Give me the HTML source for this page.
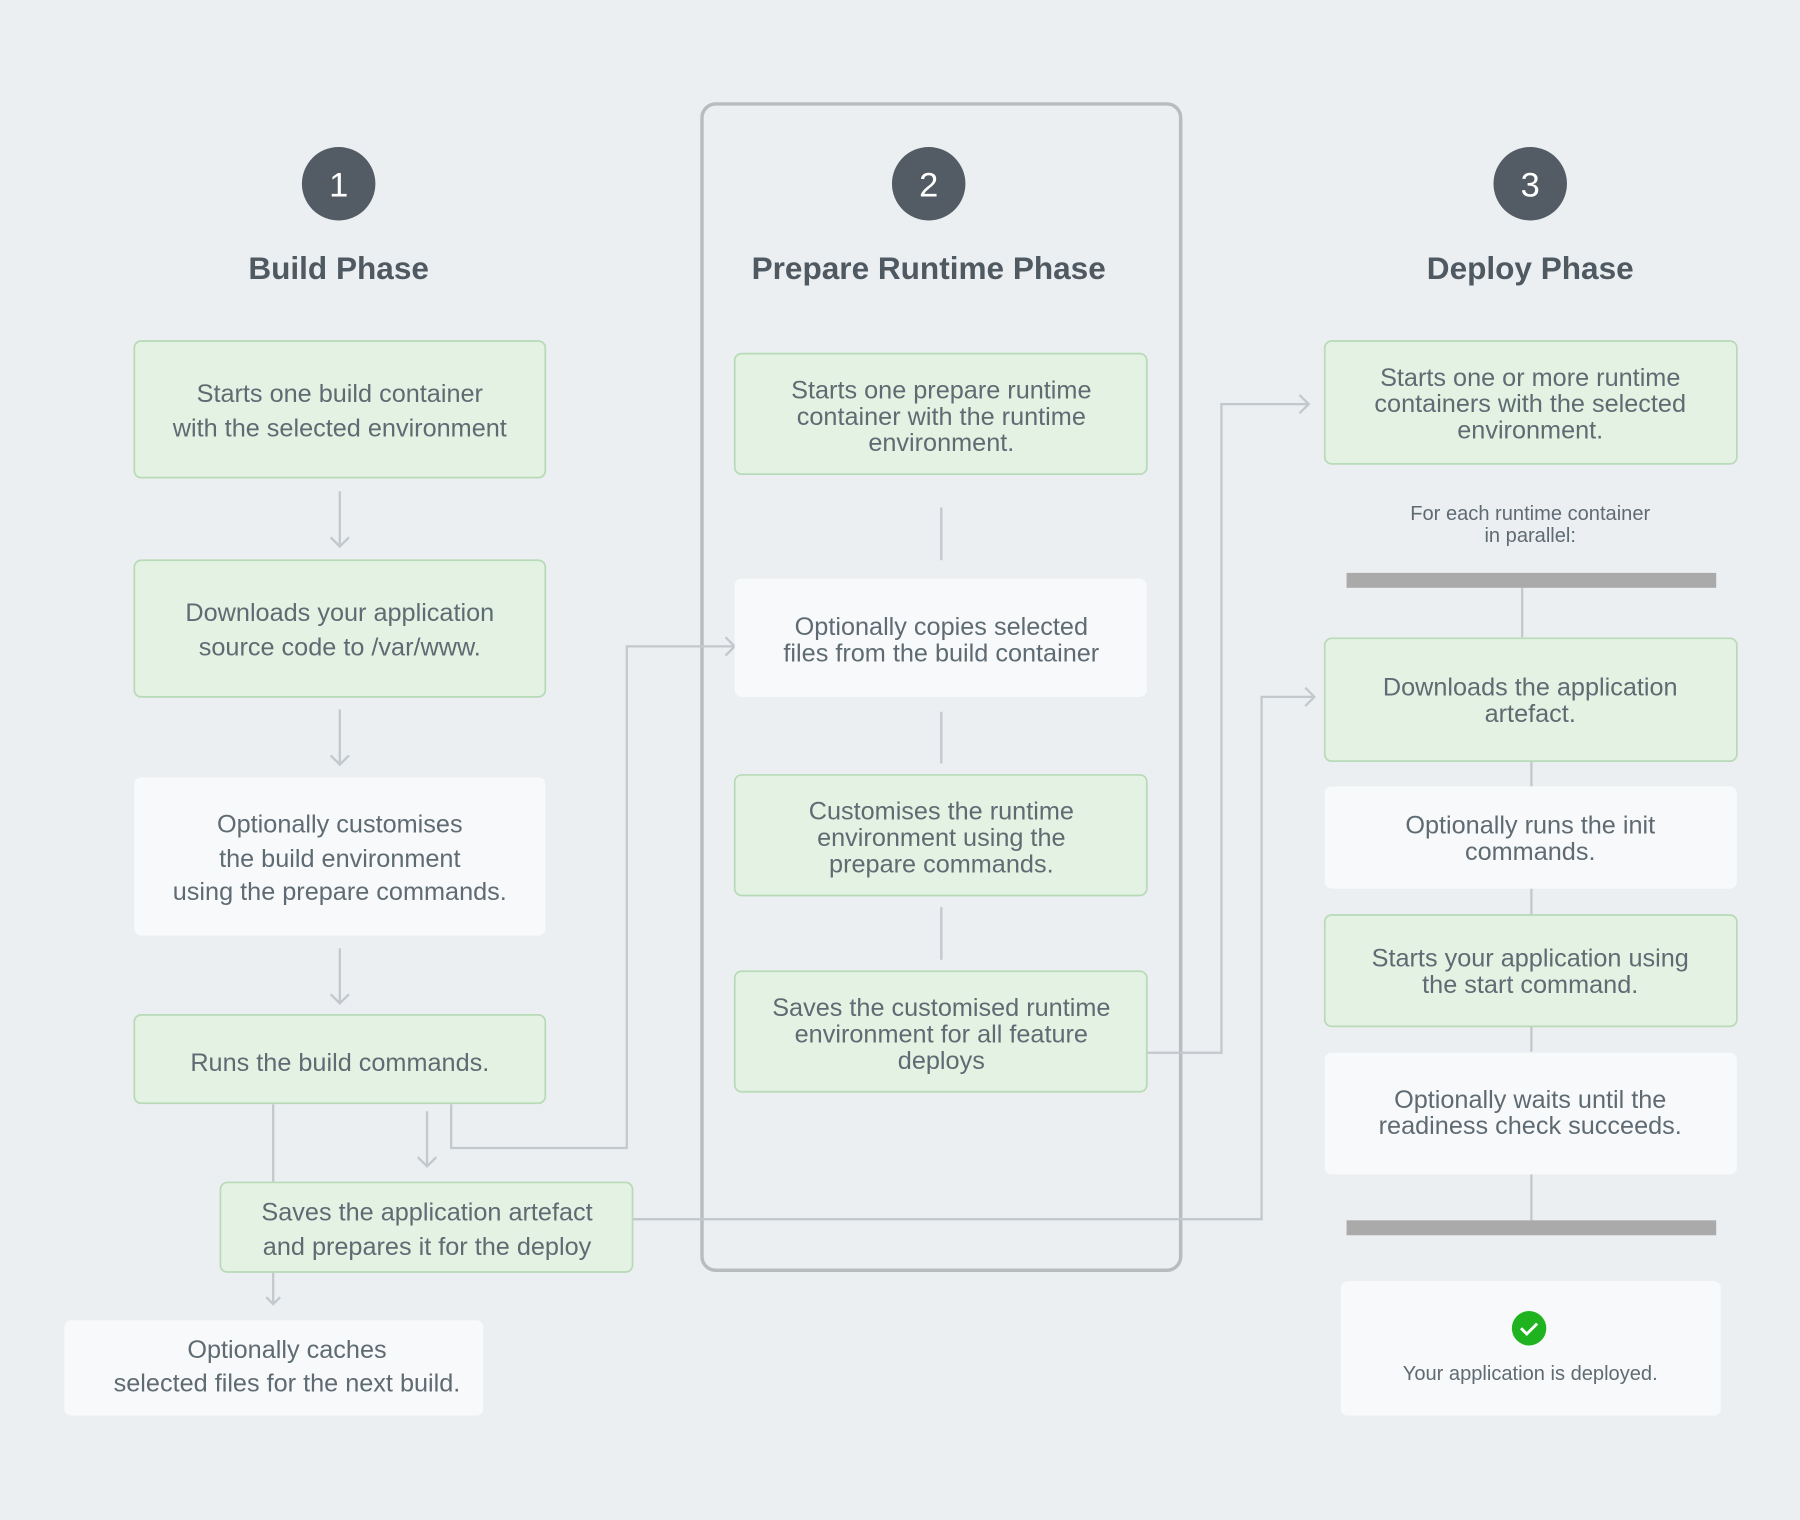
<!DOCTYPE html>
<html><head><meta charset="utf-8"><style>
html,body{margin:0;padding:0;background:#eceff1;}
svg{display:block}
text{font-family:"Liberation Sans",sans-serif;fill:#5f6b73;}
.t{font-size:22px;text-anchor:middle}
.h{font-size:27.5px;font-weight:bold;text-anchor:middle;fill:#4f5961}
.n{font-size:30px;text-anchor:middle;fill:#fff}
.g{fill:#e3f2e3;stroke:#b7dab7;stroke-width:1.5}
.w{fill:#f7f9fa;stroke:none}
.l{stroke:#c3c8cc;stroke-width:2;fill:none}
</style></head><body>
<svg width="1800" height="1520" viewBox="0 0 1568 1324" xmlns="http://www.w3.org/2000/svg">
<rect width="1568" height="1324" fill="#eceff1"/>
<rect x="611.5" y="90.5" width="417" height="1016" rx="12" fill="none" stroke="#b8bcbf" stroke-width="3"/>
<g>
<circle cx="295" cy="160" r="32" fill="#535c64"/><text class="n" x="295" y="171">1</text>
<circle cx="809" cy="160" r="32" fill="#535c64"/><text class="n" x="809" y="171">2</text>
<circle cx="1333" cy="160" r="32" fill="#535c64"/><text class="n" x="1333" y="171">3</text>
<text class="h" x="295" y="243">Build Phase</text>
<text class="h" x="809" y="243">Prepare Runtime Phase</text>
<text class="h" x="1333" y="243">Deploy Phase</text>
</g>
<g class="l">
<path d="M296 428V476M288 468l8 8 8-8"/>
<path d="M296 618V666M288 658l8 8 8-8"/>
<path d="M296 826V874M288 866l8 8 8-8"/>
<path d="M238 962V1030M238 1108V1136M232 1130l6 6 6-6"/>
<path d="M372 968V1016M364 1008l8 8 8-8"/>
<path d="M393 962V1000H546V563H640M632 555l8 8-8 8"/>
<path d="M820 442V488M820 620V665M820 790V836"/>
<path d="M999 917H1064V352H1140M1132 344l8 8-8 8"/>
<path d="M551 1062H1099V607H1145M1137 599l8 8-8 8"/>
<path d="M1326 512V555M1334 663V685M1334 774V797M1334 894V916M1334 1023V1063"/>
</g>
<rect x="1173" y="499" width="322" height="13" fill="#aaaaaa"/>
<rect x="1173" y="1063" width="322" height="13" fill="#aaaaaa"/>
<rect class="g" x="117" y="297" width="358" height="119" rx="6"/>
<text class="t" x="296" y="350">Starts one build container</text><text class="t" x="296" y="380">with the selected environment</text>
<rect class="g" x="117" y="488" width="358" height="119" rx="6"/>
<text class="t" x="296" y="541">Downloads your application</text><text class="t" x="296" y="571">source code to /var/www.</text>
<rect class="w" x="117" y="677" width="358" height="138" rx="6"/>
<text class="t" x="296" y="725">Optionally customises</text><text class="t" x="296" y="755">the build environment</text><text class="t" x="296" y="784">using the prepare commands.</text>
<rect class="g" x="117" y="884" width="358" height="77" rx="6"/>
<text class="t" x="296" y="933">Runs the build commands.</text>
<rect class="g" x="192" y="1030" width="359" height="78" rx="6"/>
<text class="t" x="372" y="1063">Saves the application artefact</text><text class="t" x="372" y="1093">and prepares it for the deploy</text>
<rect class="w" x="56" y="1150" width="365" height="83" rx="6"/>
<text class="t" x="250" y="1183">Optionally caches</text><text class="t" x="250" y="1212">selected files for the next build.</text>
<rect class="g" x="640" y="308" width="359" height="105" rx="6"/>
<text class="t" x="820" y="347">Starts one prepare runtime</text><text class="t" x="820" y="370">container with the runtime</text><text class="t" x="820" y="393">environment.</text>
<rect class="w" x="640" y="504" width="359" height="103" rx="6"/>
<text class="t" x="820" y="553">Optionally copies selected</text><text class="t" x="820" y="576">files from the build container</text>
<rect class="g" x="640" y="675" width="359" height="105" rx="6"/>
<text class="t" x="820" y="714">Customises the runtime</text><text class="t" x="820" y="737">environment using the</text><text class="t" x="820" y="760">prepare commands.</text>
<rect class="g" x="640" y="846" width="359" height="105" rx="6"/>
<text class="t" x="820" y="885">Saves the customised runtime</text><text class="t" x="820" y="908">environment for all feature</text><text class="t" x="820" y="931">deploys</text>
<rect class="g" x="1154" y="297" width="359" height="107" rx="6"/>
<text class="t" x="1333" y="336">Starts one or more runtime</text><text class="t" x="1333" y="359">containers with the selected</text><text class="t" x="1333" y="382">environment.</text>
<text class="t" style="font-size:17.5px" x="1333" y="453">For each runtime container</text><text class="t" style="font-size:17.5px" x="1333" y="472">in parallel:</text>
<rect class="g" x="1154" y="556" width="359" height="107" rx="6"/>
<text class="t" x="1333" y="606">Downloads the application</text><text class="t" x="1333" y="629">artefact.</text>
<rect class="w" x="1154" y="685" width="359" height="89" rx="6"/>
<text class="t" x="1333" y="726">Optionally runs the init</text><text class="t" x="1333" y="749">commands.</text>
<rect class="g" x="1154" y="797" width="359" height="97" rx="6"/>
<text class="t" x="1333" y="842">Starts your application using</text><text class="t" x="1333" y="865">the start command.</text>
<rect class="w" x="1154" y="917" width="359" height="106" rx="6"/>
<text class="t" x="1333" y="965">Optionally waits until the</text><text class="t" x="1333" y="988">readiness check succeeds.</text>
<rect class="w" x="1168" y="1116" width="331" height="117" rx="6"/>
<circle cx="1332" cy="1157" r="15" fill="#1fb41f"/>
<path d="M1325 1157l5 5 9-9" stroke="#fff" stroke-width="2.5" fill="none"/>
<text class="t" style="font-size:17.5px" x="1333" y="1202">Your application is deployed.</text>
</svg>
</body></html>
